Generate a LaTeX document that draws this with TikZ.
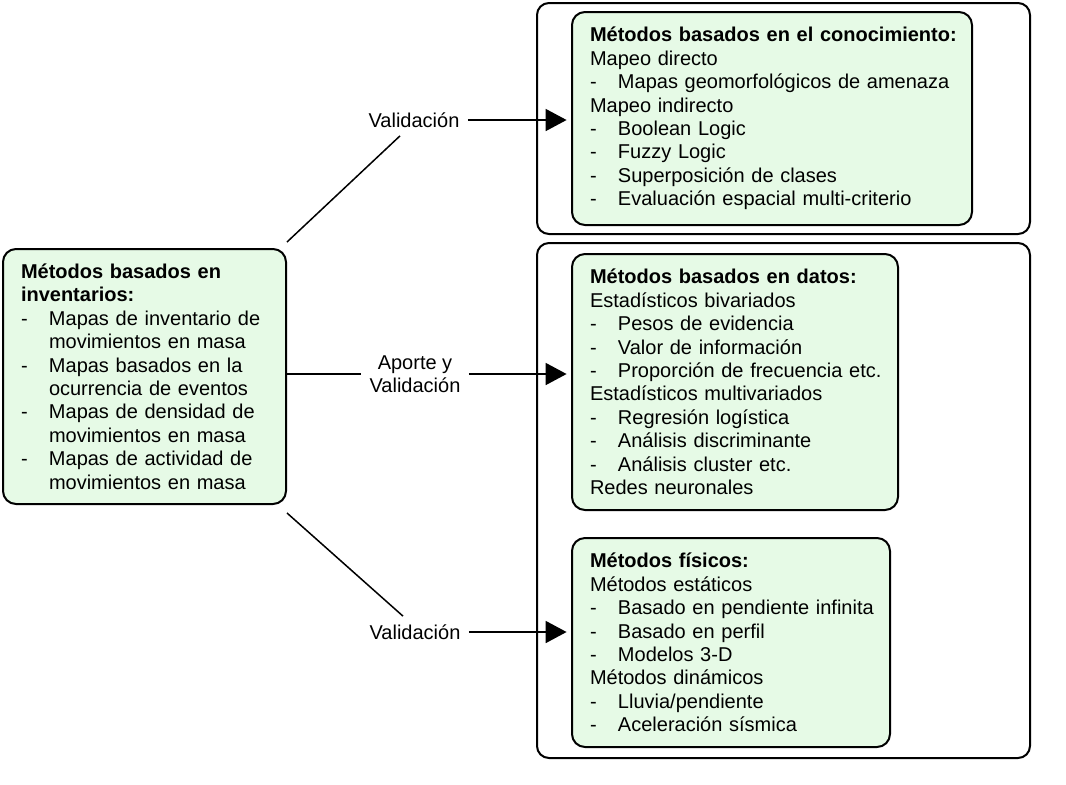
\documentclass[tikz,border=0pt]{standalone}
\usepackage{fontspec}
\setmainfont{Liberation Sans}
\usetikzlibrary{arrows.meta}

\definecolor{mintbox}{RGB}{230,250,230}

\newcommand{\hd}[1]{\mbox{\bfseries #1}}
\newcommand{\dashitem}[1]{\mbox{\makebox[14pt][l]{-}#1}}
\newcommand{\contline}[1]{\mbox{\hspace*{14pt}#1}}

\begin{document}
\begin{tikzpicture}[x=0.5pt, y=-0.5pt,
    font=\fontsize{10}{11.7}\selectfont,
    greenbox/.style={draw, line width=1pt, rounded corners=6.5pt, fill=mintbox,
        anchor=north west, align=left, inner xsep=9pt, inner ysep=0pt},
    outerframe/.style={draw, line width=1pt, rounded corners=6pt,
        anchor=north west, inner sep=0pt},
    flowlabel/.style={inner sep=4pt, align=center},
    joinline/.style={line width=0.75pt},
    arrowline/.style={line width=0.9pt, -{Triangle[length=10.5pt,width=11pt]}, shorten >=2.2pt}]
    \useasboundingbox (0,0) rectangle (1066,784);

    % Outer frames
    \node[outerframe, minimum width=246.5pt, minimum height=115.5pt] (topframe) at (536,2) {};
    \node[outerframe, minimum width=246.5pt, minimum height=257.5pt] (lowframe) at (536,242) {};

    % Inventory box
    \node[greenbox, text width=123.5pt, minimum height=127.5pt] (inv) at (2,248) {%
        \hd{Métodos basados en}\\ \hd{inventarios:}\\
        \dashitem{Mapas de inventario de}\\ \contline{movimientos en masa}\\
        \dashitem{Mapas basados en la}\\ \contline{ocurrencia de eventos}\\
        \dashitem{Mapas de densidad de}\\ \contline{movimientos en masa}\\
        \dashitem{Mapas de actividad de}\\ \contline{movimientos en masa}};

    % Method boxes
    \node[greenbox, text width=182pt, minimum height=106.5pt] (kno) at (571,11) {%
        \hd{Métodos basados en el conocimiento:}\\ Mapeo directo\\
        \dashitem{Mapas geomorfológicos de amenaza}\\ Mapeo indirecto\\
        \dashitem{Boolean Logic}\\ \dashitem{Fuzzy Logic}\\
        \dashitem{Superposición de clases}\\ \dashitem{Evaluación espacial multi-criterio}};
    \node[greenbox, text width=145pt, minimum height=128pt] (dat) at (571,253) {%
        \hd{Métodos basados en datos:}\\ Estadísticos bivariados\\
        \dashitem{Pesos de evidencia}\\ \dashitem{Valor de información}\\
        \dashitem{Proporción de frecuencia etc.}\\ Estadísticos multivariados\\
        \dashitem{Regresión logística}\\ \dashitem{Análisis discriminante}\\
        \dashitem{Análisis cluster etc.}\\ Redes neuronales};
    \node[greenbox, text width=141pt, minimum height=104.5pt] (phy) at (571,537) {%
        \hd{Métodos físicos:}\\ Métodos estáticos\\
        \dashitem{Basado en pendiente infinita}\\ \dashitem{Basado en perfil}\\
        \dashitem{Modelos 3-D}\\ Métodos dinámicos\\
        \dashitem{Lluvia/pendiente}\\ \dashitem{Aceleración sísmica}};

    % Labels
    \node[flowlabel] (val1) at (414,120) {Validación};
    \node[flowlabel] (apo) at (415,374) {Aporte y\\Validación};
    \node[flowlabel] (val3) at (415,632) {Validación};

    % Connectors
    \draw[joinline] ([yshift=3pt]inv.north east) -- ([xshift=-7pt]val1.south);
    \draw[arrowline] (val1.east) -- (val1.east -| kno.west);
    \draw[joinline] (inv.east |- apo.west) -- (apo.west);
    \draw[arrowline] (apo.east) -- (apo.east -| dat.west);
    \draw[joinline] ([yshift=-4pt]inv.south east) -- ([xshift=-6pt]val3.north);
    \draw[arrowline] (val3.east) -- (val3.east -| phy.west);
\end{tikzpicture}
\end{document}
